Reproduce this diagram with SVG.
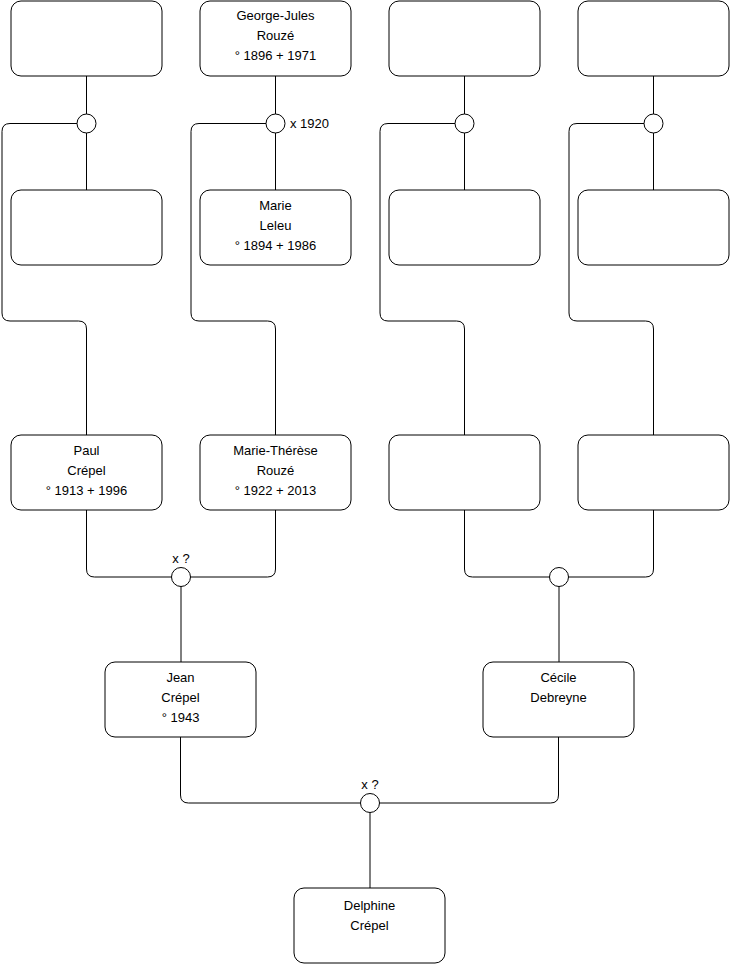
<svg xmlns="http://www.w3.org/2000/svg" width="740" height="975" viewBox="0 0 740 975">
<style>
.box{fill:#fff;stroke:#000;stroke-width:1}
.ln{fill:none;stroke:#000;stroke-width:1}
.ci{fill:#fff;stroke:#000;stroke-width:1}
text{font-family:"Liberation Sans",Arial,sans-serif;font-size:13px;fill:#000}
.c{text-anchor:middle}
</style>
<rect width="740" height="975" fill="#fff"/>
<g id="connectors">
<path class="ln" d="M86.5 76V190"/>
<path class="ln" d="M86.5 123.5H10Q2 123.5 2 131.5V313Q2 321 10 321H78.5Q86.5 321 86.5 329V435"/>
<path class="ln" d="M275.5 76V190"/>
<path class="ln" d="M275.5 123.5H199Q191 123.5 191 131.5V313Q191 321 199 321H267.5Q275.5 321 275.5 329V435"/>
<path class="ln" d="M464.5 76V190"/>
<path class="ln" d="M464.5 123.5H388Q380 123.5 380 131.5V313Q380 321 388 321H456.5Q464.5 321 464.5 329V435"/>
<path class="ln" d="M653.5 76V190"/>
<path class="ln" d="M653.5 123.5H577Q569 123.5 569 131.5V313Q569 321 577 321H645.5Q653.5 321 653.5 329V435"/>
<path class="ln" d="M86.5 510V569Q86.5 577 94.5 577H267.5Q275.5 577 275.5 569V510"/>
<path class="ln" d="M181 577V662"/>
<path class="ln" d="M464.5 510V569Q464.5 577 472.5 577H645.5Q653.5 577 653.5 569V510"/>
<path class="ln" d="M559 577V662"/>
<path class="ln" d="M180.5 737V795Q180.5 803 188.5 803H550.5Q558.5 803 558.5 795V737"/>
<path class="ln" d="M370 803V888"/>
<circle class="ci" cx="86.5" cy="123.5" r="9.5"/>
<circle class="ci" cx="275.5" cy="123.5" r="9.5"/>
<circle class="ci" cx="464.5" cy="123.5" r="9.5"/>
<circle class="ci" cx="653.5" cy="123.5" r="9.5"/>
<circle class="ci" cx="181" cy="577" r="9.5"/>
<circle class="ci" cx="559" cy="577" r="9.5"/>
<circle class="ci" cx="370" cy="803" r="9.5"/>
<text x="290" y="128">x 1920</text>
<text class="c" x="181" y="563">x ?</text>
<text class="c" x="370" y="789">x ?</text>
</g>
<g id="n1"><rect class="box" x="11" y="1" width="151" height="75" rx="10"/></g>
<g id="n2"><rect class="box" x="200" y="1" width="151" height="75" rx="10"/>
<text class="c" x="275.5" y="20">George-Jules</text><text class="c" x="275.5" y="40">Rouzé</text><text class="c" x="275.5" y="60">° 1896 + 1971</text></g>
<g id="n3"><rect class="box" x="389" y="1" width="151" height="75" rx="10"/></g>
<g id="n4"><rect class="box" x="578" y="1" width="151" height="75" rx="10"/></g>
<g id="n5"><rect class="box" x="11" y="190" width="151" height="75" rx="10"/></g>
<g id="n6"><rect class="box" x="200" y="190" width="151" height="75" rx="10"/>
<text class="c" x="275.5" y="210">Marie</text><text class="c" x="275.5" y="230">Leleu</text><text class="c" x="275.5" y="250">° 1894 + 1986</text></g>
<g id="n7"><rect class="box" x="389" y="190" width="151" height="75" rx="10"/></g>
<g id="n8"><rect class="box" x="578" y="190" width="151" height="75" rx="10"/></g>
<g id="n9"><rect class="box" x="11" y="435" width="151" height="75" rx="10"/>
<text class="c" x="86.5" y="455">Paul</text><text class="c" x="86.5" y="475">Crépel</text><text class="c" x="86.5" y="495">° 1913 + 1996</text></g>
<g id="n10"><rect class="box" x="200" y="435" width="151" height="75" rx="10"/>
<text class="c" x="275.5" y="455">Marie-Thérèse</text><text class="c" x="275.5" y="475">Rouzé</text><text class="c" x="275.5" y="495">° 1922 + 2013</text></g>
<g id="n11"><rect class="box" x="389" y="435" width="151" height="75" rx="10"/></g>
<g id="n12"><rect class="box" x="578" y="435" width="151" height="75" rx="10"/></g>
<g id="n13"><rect class="box" x="105" y="662" width="151" height="75" rx="10"/>
<text class="c" x="180.5" y="682">Jean</text><text class="c" x="180.5" y="702">Crépel</text><text class="c" x="180.5" y="722">° 1943</text></g>
<g id="n14"><rect class="box" x="483" y="662" width="151" height="75" rx="10"/>
<text class="c" x="558.5" y="682">Cécile</text><text class="c" x="558.5" y="702">Debreyne</text></g>
<g id="n15"><rect class="box" x="294" y="888" width="151" height="75" rx="10"/>
<text class="c" x="369.5" y="910">Delphine</text><text class="c" x="369.5" y="930">Crépel</text></g>
</svg>
